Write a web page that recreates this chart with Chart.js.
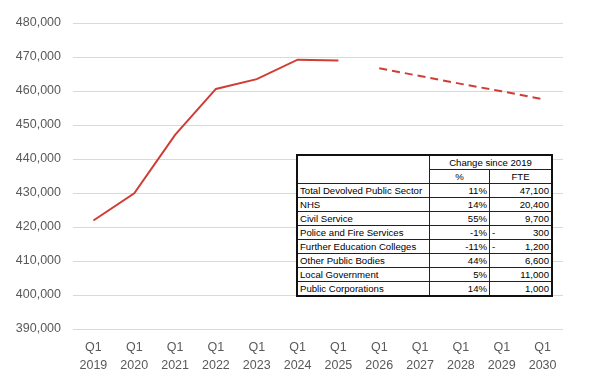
<!DOCTYPE html>
<html>
<head>
<meta charset="utf-8">
<script src="https://cdn.jsdelivr.net/npm/chart.js@4"></script>
<style>
  body { margin: 0; background: #fff; }
  #wrap { position: relative; width: 600px; height: 380px; }
  #summary {
    position: absolute; left: 296px; top: 154px;
    border-collapse: collapse; background: #fff;
    font-family: "Liberation Sans", Arial, sans-serif; font-size: 9.6px; color: #000;
    border: 2px solid #111;
  }
  #summary td { border: 1px solid #222; padding: 0 2px; height: 13px; line-height: 13px; white-space: nowrap; }
  #summary .num { text-align: right; }
  #summary .head { text-align: center; }
</style>
</head>
<body>
<div id="wrap">
  <canvas id="myChart"></canvas>
  <table id="summary"></table>
</div>
<script>
const labels = ["2019", "2020", "2021", "2022", "2023", "2024", "2025", "2026", "2027", "2028", "2029", "2030"];
const actual = [421900, 429900, 447100, 460600, 463500, 469200, 469000, null, null, null, null, null];
const projected = [null, null, null, null, null, null, null, 466700, 464400, 462100, 459900, 457600];

const yTicks = [390000, 400000, 410000, 420000, 430000, 440000, 450000, 460000, 470000, 480000];

const sectors = [
  "Total Devolved Public Sector",
  "NHS",
  "Civil Service",
  "Police and Fire Services",
  "Further Education Colleges",
  "Other Public Bodies",
  "Local Government",
  "Public Corporations",
];
const pctChange = [11, 14, 55, -1, -11, 44, 5, 14];
const fteChange = [47100, 20400, 9700, -300, -1200, 6600, 11000, 1000];

// table next to the line
const table = document.querySelector("#summary");
let html = '<tr><td rowspan="2" style="width:127px"></td><td colspan="2" class="head">Change since 2019</td></tr>';
html += '<tr><td class="head" style="width:55px">%</td><td class="head" style="width:57px">FTE</td></tr>';
sectors.forEach((name, i) => {
  const fte = fteChange[i];
  const fteCell = fte < 0
    ? '<span style="float:left">-</span>' + Math.abs(fte).toLocaleString("en-US")
    : fte.toLocaleString("en-US");
  html += "<tr><td>" + name + '</td><td class="num">' + pctChange[i] + '%</td><td class="num">' + fteCell + "</td></tr>";
});
table.innerHTML = html;

const red = "#cf3d35";
const tickFont = { family: "Liberation Sans, Arial, sans-serif", size: 12.5, lineHeight: 1.4 };

const data = {
  labels: labels.map((y) => ["Q1", y]),
  datasets: [
    {
      label: "Actual",
      data: actual,
      borderColor: red,
      borderWidth: 2,
      pointRadius: 0,
      tension: 0,
    },
    {
      label: "Projected",
      data: projected,
      borderColor: red,
      borderWidth: 2,
      borderDash: [8, 5],
      pointRadius: 0,
      tension: 0,
    },
  ],
};

const config = {
  type: "line",
  data: data,
  options: {
    responsive: true,
    maintainAspectRatio: false,
    animation: false,
    layout: { padding: { top: 23, right: 37, left: 0, bottom: 0 } },
    plugins: { legend: { display: false }, tooltip: { enabled: false } },
    scales: {
      x: {
        offset: true,
        grid: { display: false },
        border: { display: false },
        ticks: { color: "#595959", font: tickFont, padding: 2, maxRotation: 0 },
        afterFit: (s) => { s.height = 51; },
      },
      y: {
        min: yTicks[0],
        max: yTicks[yTicks.length - 1],
        afterBuildTicks: (s) => { s.ticks = yTicks.map((v) => ({ value: v })); },
        grid: { color: "#d9d9d9", drawTicks: false },
        border: { display: false },
        ticks: {
          color: "#595959",
          font: { family: tickFont.family, size: 12.5 },
          padding: 12,
          callback: (v) => v.toLocaleString("en-US"),
        },
        afterFit: (s) => { s.width = 73; },
      },
    },
  },
};

const lineChart = new Chart(document.querySelector("#myChart"), config);
</script>
</body>
</html>
